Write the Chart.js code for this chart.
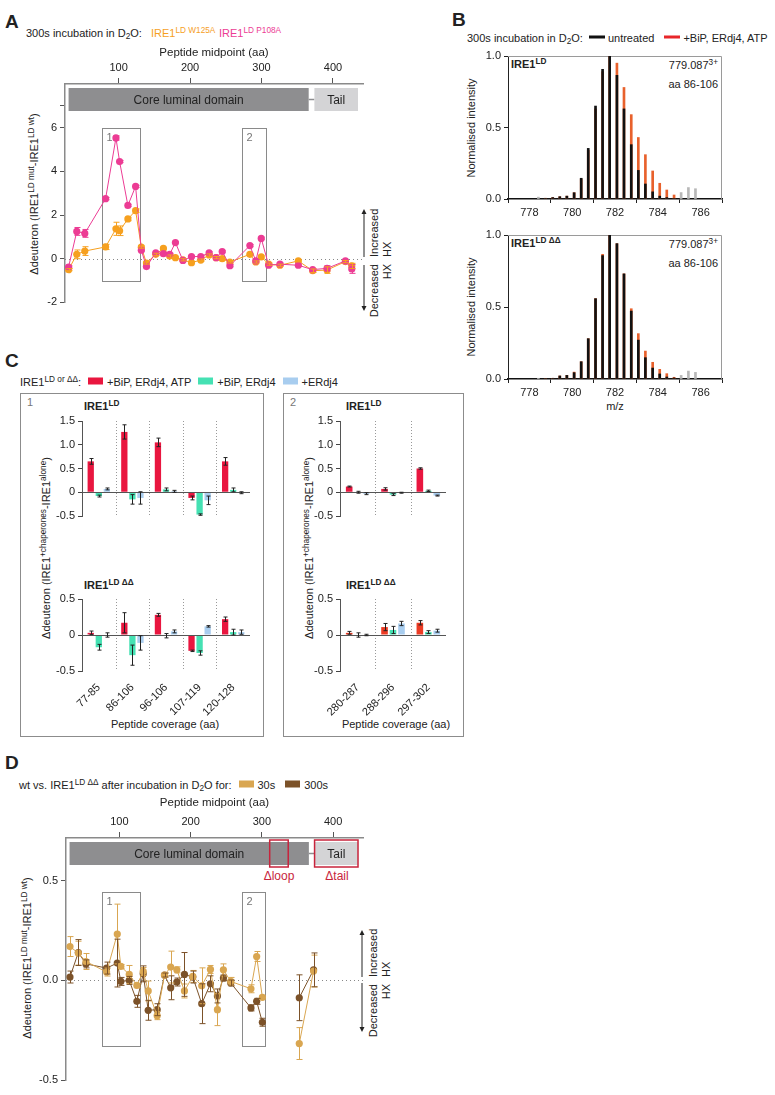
<!DOCTYPE html>
<html>
<head>
<meta charset="utf-8">
<title>IRE1 HX figure</title>
<script src="https://cdn.jsdelivr.net/npm/chart.js@4.4.1/dist/chart.umd.min.js"></script>
<style>
  body { margin: 0; background: #fff; }
  #fig { position: relative; width: 775px; height: 1095px; overflow: hidden;
         font-family: "Liberation Sans", Arial, sans-serif; font-size: 11px; color: #222; }
  #fig canvas { position: absolute; }
  .t { position: absolute; white-space: nowrap; line-height: 1; transform: translateY(-50%); }
  .c { transform: translate(-50%, -50%); }
  .r { transform: translate(-100%, -50%); }
  .yl { position: absolute; white-space: nowrap; line-height: 1; transform: translate(-50%, -50%) rotate(-90deg); }
  .up { position: absolute; white-space: nowrap; line-height: 1; transform-origin: 0 0; transform: rotate(-90deg); }
  .dn { position: absolute; white-space: nowrap; line-height: 1; transform-origin: 0 0; transform: rotate(-90deg) translateX(-100%); }
  .L { font-weight: bold; font-size: 19px; }
  .b { font-weight: bold; }
  sup { font-size: 0.75em; position: relative; top: -0.45em; vertical-align: baseline; line-height: 0; }
  sub { font-size: 0.75em; position: relative; top: 0.3em; vertical-align: baseline; line-height: 0; }
  .sw { display: inline-block; width: 15px; height: 7px; margin: 0 4px 0 7px; vertical-align: 1px; }
  .ln { display: inline-block; width: 16px; height: 3px; margin: 0 3px 0 6px; vertical-align: 3px; }
  .frame { position: absolute; border: 1px solid #8c8c8c; box-sizing: border-box; }
</style>
</head>
<body>
<div id="fig">
  <!-- panel A -->
  <div class="t L" style="left:5px;top:21px">A</div>
  <div class="t" style="left:26px;top:33px">300s incubation in D<sub>2</sub>O:</div>
  <div class="t" style="left:151px;top:33px;color:#f6a01f">IRE1<sup>LD W125A</sup></div>
  <div class="t" style="left:219px;top:33px;color:#ec3c94">IRE1<sup>LD P108A</sup></div>
  <div class="yl" style="left:34px;top:194px">&Delta;deuteron (IRE1<sup>LD mut</sup>-IRE1<sup>LD wt</sup>)</div>
  <div class="up" style="left:369px;top:257px">Increased</div>
  <div class="up" style="left:382px;top:257px">HX</div>
  <div class="dn" style="left:369px;top:264px">Decreased</div>
  <div class="dn" style="left:382px;top:264px">HX</div>
  <svg style="position:absolute;left:358px;top:208px" width="12" height="104">
    <path d="M6 4 V49 M6 57 V100" stroke="#222" stroke-width="1"/>
    <path d="M3.5 6 L6 1 L8.5 6 Z M3.5 98 L6 103 L8.5 98 Z" fill="#222"/>
  </svg>

  <!-- panel B -->
  <div class="t L" style="left:452px;top:19px">B</div>
  <div class="t" style="left:467px;top:38px">300s incubation in D<sub>2</sub>O:<span class="ln" style="background:#111"></span>untreated<span class="ln" style="background:#e8262a;margin-left:10px"></span>+BiP, ERdj4, ATP</div>
  <div class="yl" style="left:471px;top:128px">Normalised intensity</div>
  <div class="yl" style="left:471px;top:307px">Normalised intensity</div>
  <div class="t b" style="left:511px;top:64px">IRE1<sup>LD</sup></div>
  <div class="t r" style="left:718px;top:65px">779.087<sup>3+</sup></div>
  <div class="t r" style="left:718px;top:84px">aa 86-106</div>
  <div class="t b" style="left:511px;top:243px">IRE1<sup>LD &Delta;&Delta;</sup></div>
  <div class="t r" style="left:718px;top:244px">779.087<sup>3+</sup></div>
  <div class="t r" style="left:718px;top:263px">aa 86-106</div>
  <div class="t c" style="left:615px;top:406px">m/z</div>

  <!-- panel C -->
  <div class="t L" style="left:5px;top:360px">C</div>
  <div class="t" style="left:20px;top:382px">IRE1<sup>LD or &Delta;&Delta;</sup>:<span class="sw" style="background:#e9163f"></span>+BiP, ERdj4, ATP<span class="sw" style="background:#45e1b3"></span>+BiP, ERdj4<span class="sw" style="background:#a8cdef"></span>+ERdj4</div>
  <div class="frame" style="left:20px;top:393px;width:244px;height:344px"></div>
  <div class="frame" style="left:283px;top:393px;width:181px;height:344px"></div>
  <div class="t" style="left:27px;top:402px;color:#777">1</div>
  <div class="t" style="left:290px;top:402px;color:#777">2</div>
  <div class="t b" style="left:84px;top:406px">IRE1<sup>LD</sup></div>
  <div class="t b" style="left:84px;top:585px">IRE1<sup>LD &Delta;&Delta;</sup></div>
  <div class="t b" style="left:346px;top:406px">IRE1<sup>LD</sup></div>
  <div class="t b" style="left:346px;top:585px">IRE1<sup>LD &Delta;&Delta;</sup></div>
  <div class="yl" style="left:46px;top:548px">&Delta;deuteron (IRE1<sup>+chaperones</sup>-IRE1<sup>alone</sup>)</div>
  <div class="yl" style="left:309px;top:548px">&Delta;deuteron (IRE1<sup>+chaperones</sup>-IRE1<sup>alone</sup>)</div>
  <div class="t c" style="left:165px;top:724px">Peptide coverage (aa)</div>
  <div class="t c" style="left:396px;top:724px">Peptide coverage (aa)</div>

  <!-- panel D -->
  <div class="t L" style="left:5px;top:762px">D</div>
  <div class="t" style="left:19px;top:785px">wt vs. IRE1<sup>LD &Delta;&Delta;</sup> after incubation in D<sub>2</sub>O for:<span class="sw" style="background:#d9a651"></span>30s<span class="sw" style="background:#7c5229;margin-left:10px"></span>300s</div>
  <div class="t c" style="left:279px;top:876px;color:#c8243c;font-size:12px">&Delta;loop</div>
  <div class="t c" style="left:337px;top:876px;color:#c8243c;font-size:12px">&Delta;tail</div>
  <div class="yl" style="left:27px;top:958px">&Delta;deuteron (IRE1<sup>LD mut</sup>-IRE1<sup>LD wt</sup>)</div>
  <div class="up" style="left:368px;top:977px">Increased</div>
  <div class="up" style="left:381px;top:977px">HX</div>
  <div class="dn" style="left:368px;top:984px">Decreased</div>
  <div class="dn" style="left:381px;top:984px">HX</div>
  <svg style="position:absolute;left:356px;top:928px" width="12" height="106">
    <path d="M6 5 V49 M6 55 V101" stroke="#222" stroke-width="1"/>
    <path d="M3.5 7 L6 2 L8.5 7 Z M3.5 99 L6 104 L8.5 99 Z" fill="#222"/>
  </svg>
</div>

<script>
// ---- panel A: 300 s, Δdeuteron mutant - wt, by peptide midpoint (aa) ----
const midA = [30, 41.5, 52.7, 81.8, 96.3, 101.4, 113, 123.8, 131.8, 139, 152, 162.7, 171.5, 179.5, 190, 202,
              215, 226.7, 236.5, 245, 255.7, 283.7, 292, 299.6, 310, 325.8, 351.5, 371.6, 391.7, 417.4, 426.3];
const p108a = [-0.38, 1.25, 1.16, 2.75, 5.53, 4.45, 2.44, 3.31, 0.39, -0.36, 0.27, 0.23, 0.2, 0.74, -0.08, 0.1,
               0.1, 0.27, 0.05, 0.33, -0.32, 0.6, -0.1, 0.93, -0.3, -0.25, -0.3, -0.5, -0.44, -0.1, -0.47];
const p108aErr = [0.05, 0.18, 0.18, 0.05, 0.1, 0.05, 0.05, 0.05, 0.05, 0.05, 0.05, 0.05, 0.05, 0.05, 0.05, 0.05,
                  0.05, 0.05, 0.05, 0.05, 0.05, 0.05, 0.05, 0.05, 0.05, 0.05, 0.05, 0.05, 0.12, 0.05, 0.2];
const w125a = [-0.5, 0.2, 0.35, 0.54, 1.37, 1.28, 1.82, 2.2, 0.53, -0.2, 0.2, 0.47, 0.12, 0.05, -0.05, -0.18,
               -0.06, 0.17, 0.05, 0.0, -0.15, 0.2, -0.15, 0.08, -0.25, -0.3, -0.1, -0.55, -0.52, -0.13, -0.33];
const w125aErr = [0.05, 0.2, 0.2, 0.12, 0.3, 0.22, 0.08, 0.08, 0.05, 0.05, 0.05, 0.05, 0.05, 0.05, 0.05, 0.05,
                  0.05, 0.05, 0.05, 0.05, 0.05, 0.05, 0.05, 0.05, 0.05, 0.05, 0.05, 0.08, 0.15, 0.05, 0.12];
const aaTicks = [100, 200, 300, 400];
const yTicksA = [-2, 0, 2, 4, 6, 7];

// domain map (aa)
const coreDomain = [30, 366];
const tailDomain = [374, 435];
const loopDeleted = [311, 337];
const boxesA = [[76.6, 129.9, -1, 6, '1'], [273, 305.7, -1, 6, '2']];

// ---- panel B: isotope envelopes, peptide aa 86-106 (779.087, 3+) ----
const mzIso = [778.75, 779.09, 779.42, 779.75, 780.09, 780.42, 780.75, 781.09, 781.42, 781.75,
               782.09, 782.42, 782.76, 783.09, 783.42, 783.76, 784.09, 784.42, 784.76];
const ldUntreated = [0.005, 0.01, 0.016, 0.02, 0.044, 0.145, 0.354, 0.65, 0.907, 1.0,
                     0.865, 0.63, 0.38, 0.2, 0.105, 0.05, 0.02, 0.01, 0.003];
const ldTreated = [0.005, 0.01, 0.016, 0.02, 0.044, 0.14, 0.34, 0.63, 0.89, 1.0,
                   0.95, 0.78, 0.59, 0.43, 0.31, 0.196, 0.11, 0.063, 0.028];
const ddUntreated = [0.003, 0.005, 0.021, 0.025, 0.044, 0.12, 0.28, 0.558, 0.857, 1.0,
                     0.94, 0.73, 0.472, 0.27, 0.148, 0.076, 0.035, 0.014, 0.007];
const ddTreated = [0.003, 0.005, 0.021, 0.025, 0.048, 0.12, 0.28, 0.558, 0.866, 1.0,
                   0.94, 0.73, 0.488, 0.315, 0.194, 0.116, 0.067, 0.037, 0.012];
const mzOther = [778.42, 785.09, 785.43, 785.76];
const ldOther = [0.013, 0.045, 0.08, 0.072];
const ddOther = [0.005, 0.025, 0.055, 0.046];

// ---- panel C: Δdeuteron with chaperones ----
const pepRegion1 = ['77-85', '86-106', '96-106', '107-119', '120-128'];
const ld1Atp = [0.65, 1.27, 1.05, -0.12, 0.65],  ld1AtpErr = [0.06, 0.15, 0.09, 0.04, 0.08];
const ld1Bip = [-0.08, -0.15, 0.06, -0.47, 0.05], ld1BipErr = [0.02, 0.1, 0.03, 0.015, 0.04];
const ld1Erdj = [0.07, -0.12, 0.02, -0.17, -0.01], ld1ErdjErr = [0.02, 0.13, 0.02, 0.09, 0.02];
const dd1Atp = [0.03, 0.17, 0.28, -0.22, 0.22],  dd1AtpErr = [0.025, 0.14, 0.02, 0.01, 0.03];
const dd1Bip = [-0.17, -0.28, -0.01, -0.25, 0.04], dd1BipErr = [0.04, 0.14, 0.03, 0.03, 0.04];
const dd1Erdj = [0.0, -0.11, 0.05, 0.12, 0.04],  dd1ErdjErr = [0.03, 0.1, 0.02, 0.01, 0.03];
const pepRegion2 = ['280-287', '288-296', '297-302'];
const ld2Atp = [0.12, 0.07, 0.5],   ld2AtpErr = [0.01, 0.025, 0.015];
const ld2Bip = [0.0, -0.05, 0.03],  ld2BipErr = [0.02, 0.02, 0.015];
const ld2Erdj = [-0.03, -0.01, -0.07], ld2ErdjErr = [0.02, 0.01, 0.01];
const dd2Atp = [0.03, 0.11, 0.17],  dd2AtpErr = [0.02, 0.05, 0.03];
const dd2Bip = [0.0, 0.07, 0.04],   dd2BipErr = [0.03, 0.05, 0.02];
const dd2Erdj = [0.0, 0.16, 0.06],  dd2ErdjErr = [0.01, 0.03, 0.02];

// ---- panel D: wt vs ΔΔ ----
const midD = [30.6, 42.3, 53, 82, 97, 102, 113.8, 124.5, 133.4, 140.4, 153, 163.3, 172, 180.6, 191.3, 203,
              215.6, 227.8, 237.6, 246, 256.3, 284.7, 292.7, 300.7, 352.5, 372.6];
const wt30s = [0.17, 0.137, 0.095, 0.042, 0.233, 0.07, 0.03, -0.025, 0.045, -0.053, -0.177, 0.027, 0.067, 0.053, -0.053, 0.02,
               -0.027, 0.055, -0.147, 0.053, -0.005, -0.042, 0.12, -0.085, -0.317, 0.047];
const wt30sErr = [0.05, 0.06, 0.04, 0.02, 0.15, 0.01, 0.045, 0.01, 0.02, 0.05, 0.02, 0.01, 0.08, 0.015, 0.035, 0.03,
                  0.09, 0.02, 0.08, 0.03, 0.02, 0.02, 0.025, 0.01, 0.08, 0.08];
const wt300s = [0.017, 0.14, 0.083, 0.062, 0.087, -0.005, 0.0, -0.105, 0.033, -0.15, -0.147, 0.027, -0.037, -0.008, 0.03, 0.017,
                -0.117, -0.017, -0.078, 0.012, -0.013, -0.138, -0.105, -0.21, -0.087, 0.053];
const wt300sErr = [0.03, 0.065, 0.02, 0.03, 0.12, 0.02, 0.02, 0.03, 0.04, 0.05, 0.03, 0.01, 0.06, 0.02, 0.11, 0.03,
                   0.1, 0.04, 0.035, 0.015, 0.015, 0.015, 0.015, 0.02, 0.115, 0.085];
const yTicksD = [-0.5, 0, 0.5];
const boxesD = [[76, 129.3, -0.328, 0.442, '1'], [272, 305, -0.328, 0.442, '2']];

const PINK = '#ec3c94', ORANGE = '#f6a01f', LIGHT = '#d9a651', DARK = '#7c5229';
const RED = '#e9163f', GREEN = '#45e1b3', BLUE = '#a8cdef';

Chart.defaults.font.family = '"Liberation Sans", Arial, sans-serif';
Chart.defaults.font.size = 11;
Chart.defaults.color = '#222';
Chart.defaults.animation = false;
Chart.defaults.plugins.legend.display = false;
Chart.defaults.plugins.tooltip.enabled = false;

function canvasAt(left, top, w, h) {
    const c = document.createElement('canvas');
    c.width = w; c.height = h;
    c.style.left = left + 'px'; c.style.top = top + 'px';
    c.style.width = w + 'px'; c.style.height = h + 'px';
    document.getElementById('fig').appendChild(c);
    return c;
}

function drawErrors(chart, dsIndex, errs, color, cap) {
    const meta = chart.getDatasetMeta(dsIndex);
    const ys = chart.scales.y;
    const g = chart.ctx;
    g.save();
    g.strokeStyle = color;
    g.lineWidth = 1;
    meta.data.forEach((el, i) => {
        const d = chart.data.datasets[dsIndex].data[i];
        const v = (d !== null && typeof d === 'object') ? d.y : d;
        const e = errs[i];
        if (!e || v == null) return;
        const x = Math.round(el.x) + 0.5;
        const y1 = ys.getPixelForValue(v + e), y2 = ys.getPixelForValue(v - e);
        g.beginPath();
        g.moveTo(x, y1); g.lineTo(x, y2);
        g.moveTo(x - cap, y1); g.lineTo(x + cap, y1);
        g.moveTo(x - cap, y2); g.lineTo(x + cap, y2);
        g.stroke();
    });
    g.restore();
}

// domain bar, region boxes and dotted zero line for the peptide-map charts
function mapDecor(boxes, withDeletions) {
    return {
        id: 'mapDecor',
        beforeDatasetsDraw(chart) {
            const x = chart.scales.x, y = chart.scales.y, a = chart.chartArea, g = chart.ctx;
            const px = v => x.getPixelForValue(v);
            g.save();
            const top = a.top + 4, h = 23;
            g.strokeStyle = '#8e8e90'; g.lineWidth = 1.5;
            g.beginPath(); g.moveTo(px(coreDomain[1]), top + h / 2); g.lineTo(px(tailDomain[0]), top + h / 2); g.stroke();
            g.fillStyle = '#8e8e90';
            g.fillRect(px(coreDomain[0]), top, px(coreDomain[1]) - px(coreDomain[0]), h);
            g.fillStyle = '#d4d4d6';
            g.fillRect(px(tailDomain[0]), top, px(tailDomain[1]) - px(tailDomain[0]), h);
            g.fillStyle = '#222'; g.font = '12px "Liberation Sans", Arial'; g.textAlign = 'center'; g.textBaseline = 'middle';
            g.fillText('Core luminal domain', (px(coreDomain[0]) + px(coreDomain[1])) / 2, top + h / 2 + 1);
            g.fillText('Tail', (px(tailDomain[0]) + px(tailDomain[1])) / 2, top + h / 2 + 1);
            if (withDeletions) {
                g.strokeStyle = '#c8243c'; g.lineWidth = 1.5;
                g.strokeRect(px(loopDeleted[0]), top - 2, px(loopDeleted[1]) - px(loopDeleted[0]), h + 4);
                g.strokeRect(px(tailDomain[0]), top - 2, px(tailDomain[1]) - px(tailDomain[0]), h + 4);
            }
            // dotted zero line
            const y0 = Math.round(y.getPixelForValue(0)) + 0.5;
            g.strokeStyle = '#888'; g.lineWidth = 1; g.setLineDash([1, 3]);
            g.beginPath(); g.moveTo(a.left, y0); g.lineTo(a.right + 2, y0); g.stroke();
            g.setLineDash([]);
            // region boxes
            g.strokeStyle = '#8a8a8a'; g.lineWidth = 1;
            g.fillStyle = '#777'; g.font = '11px "Liberation Sans", Arial'; g.textAlign = 'left'; g.textBaseline = 'top';
            boxes.forEach(b => {
                const x1 = Math.round(px(b[0])) + 0.5, x2 = Math.round(px(b[1])) + 0.5;
                const yt = Math.round(y.getPixelForValue(b[3])) + 0.5, yb = Math.round(y.getPixelForValue(b[2])) + 0.5;
                g.strokeRect(x1, yt, x2 - x1, yb - yt);
                g.fillText(b[4], x1 + 4, yt + 4);
            });
            g.restore();
        }
    };
}

function peptideMapChart(canvas, sets, yMin, yMax, yTicks, yFmt, boxes, withDel, yw, xh, padB) {
    return new Chart(canvas, {
        type: 'line',
        data: { datasets: sets },
        options: {
            responsive: false,
            layout: { padding: { left: 0, right: 9, top: 0, bottom: padB } },
            scales: {
                x: {
                    type: 'linear', position: 'top', min: 25, max: 442,
                    afterBuildTicks: ax => { ax.ticks = aaTicks.map(v => ({ value: v })); },
                    afterFit: ax => { ax.height = xh; },
                    grid: { display: true, drawOnChartArea: false, drawTicks: true, tickLength: 6, color: '#555' },
                    border: { display: true, color: '#8a8a8a', width: 1.5 },
                    ticks: { padding: 3, font: { size: 11 } },
                    title: { display: true, text: 'Peptide midpoint (aa)', font: { size: 11.5 }, padding: { top: 6, bottom: 0 } }
                },
                y: {
                    min: yMin, max: yMax,
                    afterBuildTicks: ax => { ax.ticks = yTicks.map(v => ({ value: v })); },
                    afterFit: ax => { ax.width = yw; },
                    grid: { display: true, drawOnChartArea: false, drawTicks: true, tickLength: 5, color: '#555' },
                    border: { display: true, color: '#8a8a8a', width: 1.5 },
                    ticks: { padding: 3, callback: yFmt }
                }
            }
        },
        plugins: [mapDecor(boxes, withDel), {
            id: 'errs',
            afterDatasetsDraw(chart) {
                chart.data.datasets.forEach((ds, i) => drawErrors(chart, i, ds.errs, ds.borderColor, 3));
            }
        }]
    });
}

function lineSet(xs, ys, errs, color, gapAt) {
    return {
        data: xs.map((x, i) => ({ x: x, y: ys[i] })),
        errs: errs,
        borderColor: color, backgroundColor: color,
        borderWidth: 1, pointRadius: 3.6, pointBorderWidth: 0, tension: 0,
        segment: gapAt ? { borderColor: s => (s.p1.parsed.x - s.p0.parsed.x > gapAt ? 'rgba(0,0,0,0)' : color) } : undefined
    };
}

// ---------- A ----------
peptideMapChart(canvasAt(0, 40, 372, 272),
    [lineSet(midA, p108a, p108aErr, PINK), lineSet(midA, w125a, w125aErr, ORANGE)],
    -2, 8, yTicksA, v => (v === 7 ? '' : v), boxesA, false, 65, 44, 7);

// ---------- D ----------
peptideMapChart(canvasAt(0, 790, 372, 300),
    [lineSet(midD, wt30s, wt30sErr, LIGHT, 40), lineSet(midD, wt300s, wt300sErr, DARK, 40)],
    -0.5, 0.715, yTicksD, v => v.toFixed(1), boxesD, true, 66, 48, 10);

// ---------- B ----------
const spectrumFrame = {
    id: 'spectrumFrame',
    beforeDatasetsDraw(chart) {
        const a = chart.chartArea, g = chart.ctx;
        g.save(); g.strokeStyle = '#9a9a9a'; g.lineWidth = 1;
        g.beginPath();
        g.moveTo(a.left, a.top + 0.5); g.lineTo(a.right - 0.5, a.top + 0.5); g.lineTo(a.right - 0.5, a.bottom);
        g.stroke(); g.restore();
    }
};

function spectrumChart(canvas, untreated, treated, other) {
    const bars = (xs, ys, color, order) => ({
        data: xs.map((x, i) => ({ x: x, y: ys[i] })),
        backgroundColor: color, barThickness: 2, grouped: false, order: order
    });
    return new Chart(canvas, {
        type: 'bar',
        data: { datasets: [
            bars(mzIso, untreated, '#111', 0),
            bars(mzIso, treated, '#e8612c', 1),
            bars(mzOther, other, '#b8b8b8', 2)
        ] },
        options: {
            responsive: false,
            layout: { padding: { left: 0, right: 18, top: 11, bottom: 0 } },
            scales: {
                x: {
                    type: 'linear', min: 778, max: 786,
                    afterBuildTicks: ax => { ax.ticks = [778, 780, 782, 784, 786].map(v => ({ value: v })); },
                    afterFit: ax => { ax.height = 21; },
                    grid: { display: true, drawOnChartArea: false, drawTicks: true, tickLength: 4, color: '#222' },
                    border: { display: true, color: '#111', width: 1.5 },
                    ticks: { padding: 3 }
                },
                y: {
                    min: 0, max: 1,
                    afterBuildTicks: ax => { ax.ticks = [0, 0.5, 1].map(v => ({ value: v })); },
                    afterFit: ax => { ax.width = 68; },
                    grid: { display: true, drawOnChartArea: false, drawTicks: true, tickLength: 4, color: '#222' },
                    border: { display: true, color: '#222', width: 1 },
                    ticks: { padding: 3, callback: v => v.toFixed(1) }
                }
            }
        },
        plugins: [spectrumFrame]
    });
}

spectrumChart(canvasAt(440, 45, 300, 175), ldUntreated, ldTreated, ldOther);
spectrumChart(canvasAt(440, 224, 300, 176), ddUntreated, ddTreated, ddOther);

// ---------- C ----------
function barPanel(canvas, labels, vals, errs, colors, yMin, yMax, yTicks, showX, yw, padR, padB) {
    return new Chart(canvas, {
        type: 'bar',
        data: {
            labels: labels,
            datasets: vals.map((v, i) => ({ data: v, backgroundColor: colors[i], errs: errs[i] }))
        },
        options: {
            responsive: false,
            categoryPercentage: 0.72, barPercentage: 0.78,
            layout: { padding: { left: 0, right: padR, top: 11, bottom: padB } },
            scales: {
                x: {
                    display: showX,
                    afterFit: ax => { ax.height = 49; },
                    grid: { display: false },
                    border: { display: false },
                    ticks: { autoSkip: false, minRotation: 45, maxRotation: 45, padding: 2, font: { size: 11 } }
                },
                y: {
                    min: yMin, max: yMax,
                    afterBuildTicks: ax => { ax.ticks = yTicks.map(v => ({ value: v })); },
                    afterFit: ax => { ax.width = yw; },
                    grid: { display: true, drawOnChartArea: false, drawTicks: true, tickLength: 4, color: '#444' },
                    border: { display: true, color: '#555', width: 1 },
                    ticks: { padding: 3, font: { size: 11 } }
                }
            }
        },
        plugins: [{
            id: 'sepC',
            beforeDatasetsDraw(chart) {
                const x = chart.scales.x, a = chart.chartArea, g = chart.ctx;
                g.save(); g.strokeStyle = '#999'; g.lineWidth = 1; g.setLineDash([1, 2]);
                for (let i = 1; i < labels.length; i++) {
                    const p = Math.round((x.getPixelForValue(i - 1) + x.getPixelForValue(i)) / 2) + 0.5;
                    g.beginPath(); g.moveTo(p, a.top); g.lineTo(p, a.bottom); g.stroke();
                }
                g.restore();
            },
            afterDatasetsDraw(chart) {
                const a = chart.chartArea, g = chart.ctx;
                const y0 = Math.round(chart.scales.y.getPixelForValue(0)) + 0.5;
                g.save(); g.strokeStyle = '#555'; g.lineWidth = 1;
                g.beginPath(); g.moveTo(a.left, y0); g.lineTo(a.right, y0); g.stroke();
                g.restore();
                chart.data.datasets.forEach((ds, i) => drawErrors(chart, i, ds.errs, '#222', 2));
            }
        }]
    });
}

barPanel(canvasAt(20, 410, 243, 165), pepRegion1,
    [ld1Atp, ld1Bip, ld1Erdj], [ld1AtpErr, ld1BipErr, ld1ErdjErr], [RED, GREEN, BLUE],
    -0.5, 1.5, [-0.5, 0, 0.5, 1, 1.5], false, 62, 13, 10);
barPanel(canvasAt(20, 588, 243, 132), pepRegion1,
    [dd1Atp, dd1Bip, dd1Erdj], [dd1AtpErr, dd1BipErr, dd1ErdjErr], [RED, GREEN, BLUE],
    -0.5, 0.5, [-0.5, 0, 0.5], true, 62, 13, 0);
barPanel(canvasAt(283, 410, 180, 165), pepRegion2,
    [ld2Atp, ld2Bip, ld2Erdj], [ld2AtpErr, ld2BipErr, ld2ErdjErr], [RED, GREEN, BLUE],
    -0.5, 1.5, [-0.5, 0, 0.5, 1, 1.5], false, 57, 17, 10);
barPanel(canvasAt(283, 588, 180, 132), pepRegion2,
    [dd2Atp, dd2Bip, dd2Erdj], [dd2AtpErr, dd2BipErr, dd2ErdjErr], ['#ec3b24', GREEN, BLUE],
    -0.5, 0.5, [-0.5, 0, 0.5], true, 57, 17, 0);
</script>
</body>
</html>
